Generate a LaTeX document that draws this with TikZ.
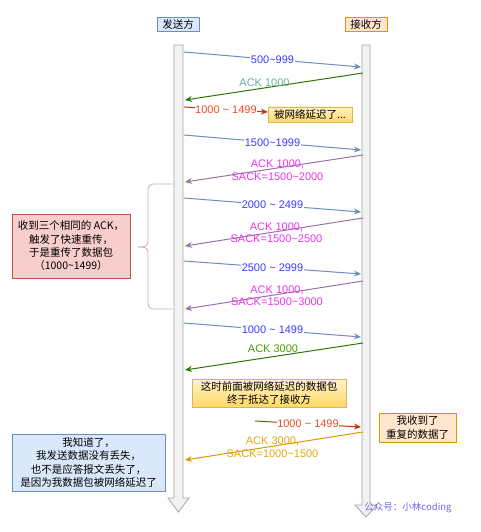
\documentclass[tikz,border=0pt]{standalone}
\usepackage{fontspec}
\setmainfont{Liberation Sans}
\newfontfamily\cjk{Noto Sans CJK SC}
\usepackage{tikz}
\usetikzlibrary{arrows.meta}
\definecolor{lineblue}{HTML}{6C8EBF}
\definecolor{txtblue}{HTML}{3C3CFF}
\definecolor{ackgreen}{HTML}{2D7600}
\definecolor{txtteal}{HTML}{67AB9F}
\definecolor{txtgreen}{HTML}{4D9900}
\definecolor{linered}{HTML}{CC3300}
\definecolor{txtred}{HTML}{EE4B2B}
\definecolor{linepurple}{HTML}{9673A6}
\definecolor{txtmagenta}{HTML}{EE33EE}
\definecolor{lineorange}{HTML}{D79B00}
\definecolor{txtorange}{HTML}{E5A50F}
\definecolor{fillblue}{HTML}{DAE8FC}
\definecolor{fillorange}{HTML}{FFE6CC}
\definecolor{fillpink}{HTML}{F8CECC}
\definecolor{drawpink}{HTML}{B85450}
\definecolor{yellowtop}{HTML}{FFF2CC}
\definecolor{yellowbot}{HTML}{FFD966}
\definecolor{drawyellow}{HTML}{D6B656}
\definecolor{bracecol}{HTML}{CFA6C2}
\definecolor{markblue}{HTML}{6B6BF5}
\newcommand{\tld}{\textasciitilde}

\begin{document}
\begin{tikzpicture}[x=1pt, y=-1pt, font=\fontsize{11}{12.5}\selectfont,
		msg/.style={-{Stealth[length=7pt, width=6pt]}, line width=1pt},
		lbl/.style={fill=white, inner sep=0.5pt},
		cjkbox/.style={draw, align=center, inner sep=1pt, font=\cjk\fontsize{10.5}{13.3}\selectfont},
		yellowbox/.style={cjkbox, draw=drawyellow, top color=yellowtop, bottom color=yellowbot},
		lifeline/.style={draw=black!35, fill=black!5, line width=0.8pt}]
	\useasboundingbox (0,0) rectangle (481,532);
	% the two lifelines, drawn as hollow arrows
	\draw[lifeline] (174,45) -- (183,45) -- (183,498) -- (189,498) -- (178.5,512) -- (168,498) -- (174,498) -- cycle;
	\draw[lifeline] (362,45) -- (370,45) -- (370,505) -- (377,505) -- (366,517) -- (355,505) -- (362,505) -- cycle;
	\node[cjkbox, draw=lineblue, fill=fillblue, minimum width=42pt, minimum height=14pt] (sender) at (178,24) {发送方};
	\node[cjkbox, draw=lineorange, fill=fillorange, minimum width=42pt, minimum height=14pt] (receiver) at (366,24) {接收方};
	% data segments: sender -> receiver
	\foreach \n/\ys/\yr/\lab in {1/52/67/500\tld999, 2/135/150/1500\tld1999, 3/198/212/2000 \tld\ 2499, 4/261/274/2500 \tld\ 2999, 5/323/337/1000 \tld\ 1499} {
		\coordinate (ds\n) at (184,\ys);
		\coordinate (dr\n) at (361,\yr);
		\draw[msg, lineblue] (ds\n) -- (dr\n) node[midway, lbl, text=txtblue] {\lab};
	}
	% acknowledgements: receiver -> sender
	\foreach \n/\yr/\ys/\lc/\tc/\dx/\dy/\lab in {
			1/73/100/ackgreen/txtteal/-9.5/3.5/{ACK 1000},
			2/155/182/linepurple/txtmagenta/3.5/-1.5/{ACK 1000,\\SACK=1500\tld2000},
			3/218/246/linepurple/txtmagenta/2.5/-0.5/{ACK 1000,\\SACK=1500\tld2500},
			4/281/309/linepurple/txtmagenta/3/-0.5/{ACK 1000,\\SACK=1500\tld3000},
			5/343/370/ackgreen/txtgreen/-1/7.5/{ACK 3000},
			6/432/460/lineorange/txtorange/-1.5/-1/{ACK 3000,\\SACK=1000\tld1500}} {
		\coordinate (ar\n) at (363,\yr);
		\coordinate (as\n) at (185,\ys);
		\draw[msg, \lc] (ar\n) -- (as\n) node[midway, align=center, text=\tc, xshift=\dx pt, yshift=\dy pt] {\lab};
	}
	% the segment that gets held up
	\node[yellowbox, minimum width=84pt, minimum height=15pt] (delay) at (310,114.5) {被网络延迟了...};
	\coordinate (lost) at (184,107);
	\draw[msg, linered] (lost) -- (delay) node[midway, lbl, text=txtred] {1000 \tld\ 1499};
	% it turns up late
	\node[yellowbox, minimum width=154pt, minimum height=28pt] (arrive) at (269,393) {这时前面被网络延迟的数据包\\终于抵达了接收方};
	\coordinate (late) at (255,421);
	\coordinate (lateend) at (361,427);
	\draw[msg, linered] (late) -- (lateend) node[midway, lbl, text=txtred] {1000 \tld\ 1499};
	\node[cjkbox, draw=lineorange, fill=fillorange, minimum width=77pt, minimum height=29pt] (dup) at (417.5,427.5) {我收到了\\重复的数据了};
	% notes on the left
	\draw[bracecol, line width=0.8pt, rounded corners=5pt] (173,184) -- (148,184) -- (148,247) -- (138,247);
	\draw[bracecol, line width=0.8pt, rounded corners=5pt] (173,309) -- (148,309) -- (148,247) -- (138,247);
	\node[cjkbox, draw=drawpink, fill=fillpink, minimum width=118pt, minimum height=64pt] (fast) at (71,246) {收到三个相同的 ACK，\\触发了快速重传，\\于是重传了数据包\\（1000\tld1499）};
	\node[cjkbox, draw=lineblue, fill=fillblue, minimum width=153pt, minimum height=57pt] (know) at (88.5,462.5) {我知道了，\\我发送数据没有丢失，\\也不是应答报文丢失了，\\是因为我数据包被网络延迟了};
	\node[text=markblue, font=\cjk\fontsize{9.5}{11}\selectfont] (mark) at (408,508) {公众号：小林coding};
\end{tikzpicture}
\end{document}
